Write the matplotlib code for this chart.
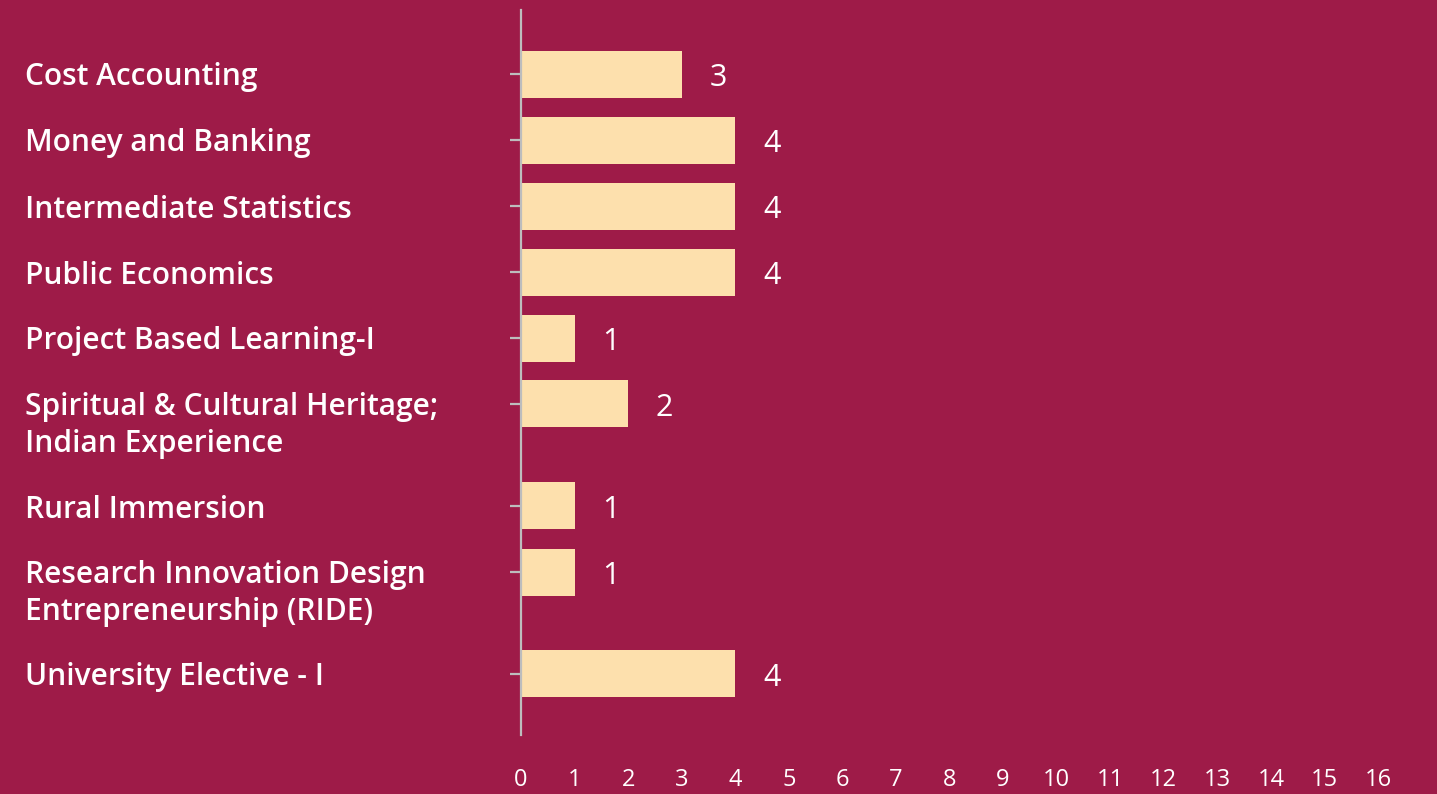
import matplotlib
matplotlib.use("Agg")
import matplotlib.pyplot as plt
import numpy as np
from matplotlib.transforms import blended_transform_factory

BG = "#9e1b48"
BAR = "#fde0ad"
AXIS_GRAY = "#bdbdbd"

COURSES = [
    "Cost Accounting",
    "Money and Banking",
    "Intermediate Statistics",
    "Public Economics",
    "Project Based Learning-I",
    "Spiritual & Cultural Heritage;\nIndian Experience",
    "Rural Immersion",
    "Research Innovation Design\nEntrepreneurship (RIDE)",
    "University Elective - I",
]
CREDITS = [3, 4, 4, 4, 1, 2, 1, 1, 4]
X_TICKS = list(range(0, 17))

# layout in pixel-like units: rows grow with the number of label lines
ROW = 66
LINE = 37
BAR_H = 47

lines = [c.count("\n") + 1 for c in COURSES]
steps = [ROW + (LINE - 1) * (n - 1) for n in lines[:-1]]
ypos = np.concatenate([[0], np.cumsum(steps)])

plt.rcParams["font.family"] = ["Open Sans", "DejaVu Sans"]

fig = plt.figure(figsize=(14.37, 7.94), dpi=100)
fig.patch.set_facecolor(BG)
ax = fig.add_axes([521 / 1437, 59 / 794, (1378 - 521) / 1437, 725 / 794])
ax.set_facecolor(BG)

ax.barh(ypos, CREDITS, height=BAR_H, color=BAR, zorder=2)
ax.set_xlim(0, 16)
ax.set_ylim(ypos[-1] + 61, ypos[0] - 64)

for y, v in zip(ypos, CREDITS):
    ax.annotate(str(v), (v, y), xytext=(20, -9), textcoords="offset points",
                ha="left", va="baseline", color="white", fontsize=22)

trans = blended_transform_factory(fig.transFigure, ax.transData)
for y, label in zip(ypos, COURSES):
    for k, part in enumerate(label.split("\n")):
        ax.text(25 / 1437, y + 11.5 + k * LINE, part, transform=trans,
                ha="left", va="baseline", color="white", fontsize=21.5,
                fontweight="semibold")

for side in ["top", "right", "bottom"]:
    ax.spines[side].set_visible(False)
ax.spines["left"].set_color(AXIS_GRAY)
ax.spines["left"].set_linewidth(1.6)

ax.set_yticks(ypos)
ax.set_yticklabels([])
ax.tick_params(axis="y", length=8, width=1.6, color=AXIS_GRAY)
ax.set_xticks(X_TICKS)
ax.tick_params(axis="x", length=0, pad=24, labelsize=17, labelcolor="white")

fig.savefig("out.png", dpi=100, facecolor=BG)
